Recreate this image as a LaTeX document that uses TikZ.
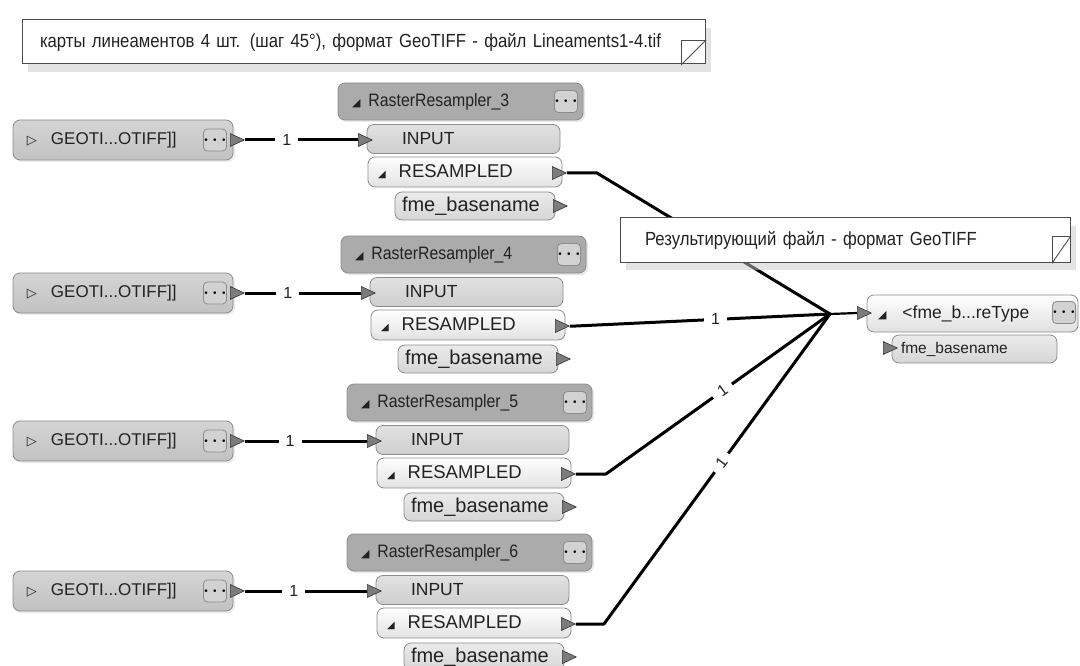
\documentclass[tikz,border=0pt]{standalone}
\usepackage{fontspec}
\setmainfont{Liberation Sans}
\newfontfamily\narrowfont[FakeStretch=0.88]{Liberation Sans}
\newfontfamily\iconfont{DejaVu Sans}
\usetikzlibrary{shapes.geometric,shadows}

\definecolor{hdrgray}{HTML}{ABABAB}
\definecolor{edgegray}{HTML}{8C8C8C}
\definecolor{ingray}{HTML}{CECECE}
\definecolor{resgray}{HTML}{E2E2E2}
\definecolor{basegray}{HTML}{D6D6D6}
\definecolor{rdgray}{HTML}{C2C2C2}
\definecolor{wrgray}{HTML}{E0E0E0}
\definecolor{btngray}{HTML}{D2D2D2}
\definecolor{portgray}{HTML}{7C7C7C}
\definecolor{inkgray}{HTML}{222222}

\tikzset{
  fmebox/.style={rounded corners=7pt, draw=edgegray, line width=0.8pt,
    inner ysep=0pt, align=left, text=inkgray},
  hdrbox/.style={fmebox, fill=hdrgray, minimum width=245pt, minimum height=37pt,
    inner xsep=14pt, text width=217pt, font=\narrowfont\fontsize{18}{18}\selectfont,
    drop shadow={shadow xshift=2pt, shadow yshift=-2pt, fill=black!18}},
  inbox/.style={fmebox, top color=ingray!60, bottom color=ingray, minimum width=193pt,
    minimum height=29pt, inner xsep=35pt, text width=123pt,
    font=\fontsize{17.5}{17.5}\selectfont},
  resbox/.style={fmebox, top color=white, bottom color=resgray, minimum width=194pt,
    minimum height=30pt, inner xsep=10pt, text width=174pt,
    font=\fontsize{18.5}{18.5}\selectfont},
  basebox/.style={fmebox, top color=basegray!50, bottom color=basegray, minimum width=160pt,
    minimum height=28pt, inner xsep=7pt, text width=146pt,
    font=\fontsize{20}{20}\selectfont},
  rdbox/.style={fmebox, top color=rdgray!70, bottom color=rdgray, minimum width=220pt,
    minimum height=40pt, inner xsep=14pt, text width=192pt,
    font=\fontsize{17}{17}\selectfont,
    drop shadow={shadow xshift=2pt, shadow yshift=-2pt, fill=black!15}},
  wrbox/.style={fmebox, top color=white, bottom color=wrgray, minimum width=211pt,
    minimum height=37pt, inner xsep=11pt, text width=189pt,
    font=\fontsize{17.5}{17.5}\selectfont},
  wrbasebox/.style={fmebox, top color=basegray!50, bottom color=basegray, minimum width=165pt,
    minimum height=28pt, inner xsep=9pt, text width=147pt,
    font=\fontsize{15.5}{15.5}\selectfont},
  btnbox/.style={rounded corners=4pt, draw=edgegray, fill=btngray, line width=0.8pt,
    minimum width=21pt, minimum height=22pt, inner sep=0pt, text=black,
    font=\fontsize{17}{17}\selectfont\boldmath},
  portnode/.style={isosceles triangle, isosceles triangle apex angle=50, minimum size=13pt,
    inner sep=0pt, fill=portgray, draw=black!80, line width=0.6pt},
  conn/.style={line width=3pt, black, line join=round},
  lbl/.style={fill=white, inner xsep=7pt, inner ysep=1pt, text=inkgray,
    font=\fontsize{16}{16}\selectfont},
  note/.style={draw=black!70, fill=white, line width=1pt, minimum height=44pt,
    inner ysep=0pt, align=left, text=inkgray, font=\narrowfont\fontsize{19}{19}\selectfont,
    drop shadow={shadow xshift=6pt, shadow yshift=-8pt, fill=black!22}},
  fold/.style={draw=black!70, line width=0.9pt}
}

\begin{document}
\begin{tikzpicture}[x=1pt, y=-1pt]
\useasboundingbox (0,0) rectangle (1080,666);

% row 3
\begin{scope}[shift={(0,0)}]
\node[rdbox] (rd3) at (123,140) {{\iconfont\fontsize{13}{13}\selectfont ▷}\hspace{14pt}GEOTI...OTIFF]]};
\node[btnbox] (rdb3) at (215,140) {$\cdots$};
\node[portnode, anchor=west] (rdp3) at (230,140) {};
\begin{scope}[shift={(0,0)}]
\node[hdrbox] (hdr3) at (460.5,101.5) {{\iconfont\fontsize{11}{11}\selectfont ◢}\hspace{8pt}RasterResampler\_3};
\node[btnbox] (hdrb3) at (566,101.5) {$\cdots$};
\node[inbox] (in3) at (463.5,139) {INPUT};
\node[portnode, anchor=west] (inp3) at (358,140) {};
\node[resbox] (res3) at (465,172) {{\iconfont\fontsize{10}{10}\selectfont ◢}\hspace{13pt}RESAMPLED};
\node[portnode, anchor=west] (resp3) at (552,173) {};
\node[basebox] (base3) at (475,206) {fme\_basename};
\node[portnode, anchor=west] (basep3) at (553,206) {};
\end{scope}
\end{scope}

% row 4
\begin{scope}[shift={(0,153)}]
\node[rdbox] (rd4) at (123,140) {{\iconfont\fontsize{13}{13}\selectfont ▷}\hspace{14pt}GEOTI...OTIFF]]};
\node[btnbox] (rdb4) at (215,140) {$\cdots$};
\node[portnode, anchor=west] (rdp4) at (230,140) {};
\begin{scope}[shift={(3,0)}]
\node[hdrbox] (hdr4) at (460.5,101.5) {{\iconfont\fontsize{11}{11}\selectfont ◢}\hspace{8pt}RasterResampler\_4};
\node[btnbox] (hdrb4) at (566,101.5) {$\cdots$};
\node[inbox] (in4) at (463.5,139) {INPUT};
\node[portnode, anchor=west] (inp4) at (358,140) {};
\node[resbox] (res4) at (465,172) {{\iconfont\fontsize{10}{10}\selectfont ◢}\hspace{13pt}RESAMPLED};
\node[portnode, anchor=west] (resp4) at (552,173) {};
\node[basebox] (base4) at (475,206) {fme\_basename};
\node[portnode, anchor=west] (basep4) at (553,206) {};
\end{scope}
\end{scope}

% row 5
\begin{scope}[shift={(0,301)}]
\node[rdbox] (rd5) at (123,140) {{\iconfont\fontsize{13}{13}\selectfont ▷}\hspace{14pt}GEOTI...OTIFF]]};
\node[btnbox] (rdb5) at (215,140) {$\cdots$};
\node[portnode, anchor=west] (rdp5) at (230,140) {};
\begin{scope}[shift={(9,0)}]
\node[hdrbox] (hdr5) at (460.5,101.5) {{\iconfont\fontsize{11}{11}\selectfont ◢}\hspace{8pt}RasterResampler\_5};
\node[btnbox] (hdrb5) at (566,101.5) {$\cdots$};
\node[inbox] (in5) at (463.5,139) {INPUT};
\node[portnode, anchor=west] (inp5) at (358,140) {};
\node[resbox] (res5) at (465,172) {{\iconfont\fontsize{10}{10}\selectfont ◢}\hspace{13pt}RESAMPLED};
\node[portnode, anchor=west] (resp5) at (552,173) {};
\node[basebox] (base5) at (475,206) {fme\_basename};
\node[portnode, anchor=west] (basep5) at (553,206) {};
\end{scope}
\end{scope}

% row 6
\begin{scope}[shift={(0,451)}]
\node[rdbox] (rd6) at (123,140) {{\iconfont\fontsize{13}{13}\selectfont ▷}\hspace{14pt}GEOTI...OTIFF]]};
\node[btnbox] (rdb6) at (215,140) {$\cdots$};
\node[portnode, anchor=west] (rdp6) at (230,140) {};
\begin{scope}[shift={(9,0)}]
\node[hdrbox] (hdr6) at (460.5,101.5) {{\iconfont\fontsize{11}{11}\selectfont ◢}\hspace{8pt}RasterResampler\_6};
\node[btnbox] (hdrb6) at (566,101.5) {$\cdots$};
\node[inbox] (in6) at (463.5,139) {INPUT};
\node[portnode, anchor=west] (inp6) at (358,140) {};
\node[resbox] (res6) at (465,172) {{\iconfont\fontsize{10}{10}\selectfont ◢}\hspace{13pt}RESAMPLED};
\node[portnode, anchor=west] (resp6) at (552,173) {};
\node[basebox] (base6) at (475,206) {fme\_basename};
\node[portnode, anchor=west] (basep6) at (553,206) {};
\end{scope}
\end{scope}

% writer
\node[wrbox] (wr) at (972.5,313.5) {{\iconfont\fontsize{11}{11}\selectfont ◢}\hspace{16pt}<fme\_b...reType};
\node[btnbox] (wrb) at (1064,312.5) {$\cdots$};
\node[wrbasebox] (wrbase) at (974.5,349) {fme\_basename};
\node[portnode, anchor=west] (wrp) at (857,313) {};
\node[portnode, anchor=west] (wrbasep) at (883,348) {};

% links
\draw[conn] (rdp3.apex) -- node[lbl, pos=.37] {1} (inp3.west);
\draw[conn] (rdp4.apex) -- node[lbl, pos=.37] {1} (inp4.west);
\draw[conn] (rdp5.apex) -- node[lbl, pos=.37] {1} (inp5.west);
\draw[conn] (rdp6.apex) -- node[lbl, pos=.40] {1} (inp6.west);

\coordinate (merge) at (830,314);
\draw[conn] (resp3.apex) -- ++(30,0) -- (merge);
\draw[conn] (resp4.apex) -- ++(6,0) -- node[lbl, pos=.55] {1} (merge);
\draw[conn] (resp5.apex) -- ++(30,0) -- node[lbl, sloped, pos=.52] {1} (merge);
\draw[conn] (resp6.apex) -- ++(28,0) -- node[lbl, sloped, pos=.52] {1} (merge);
\draw[conn, line width=2.2pt] (merge) -- (wrp.west);

% annotations
\node[note, minimum width=683pt, inner xsep=18pt, text width=647pt] (lineam) at (363.5,42)
  {карты линеаментов 4 шт. (шаг 45°), формат GeoTIFF - файл Lineaments1-4.tif};
\draw[fold] ([yshift=24pt]lineam.south east) -- ++(-24,0) -- ++(0,24) -- cycle;

\node[note, minimum width=450pt, inner xsep=25pt, text width=400pt] (result) at (845,240)
  {Результирующий файл - формат GeoTIFF};
\draw[fold] ([yshift=26pt]result.south east) -- ++(-18,0) -- ++(0,26) -- cycle;

\end{tikzpicture}
\end{document}
